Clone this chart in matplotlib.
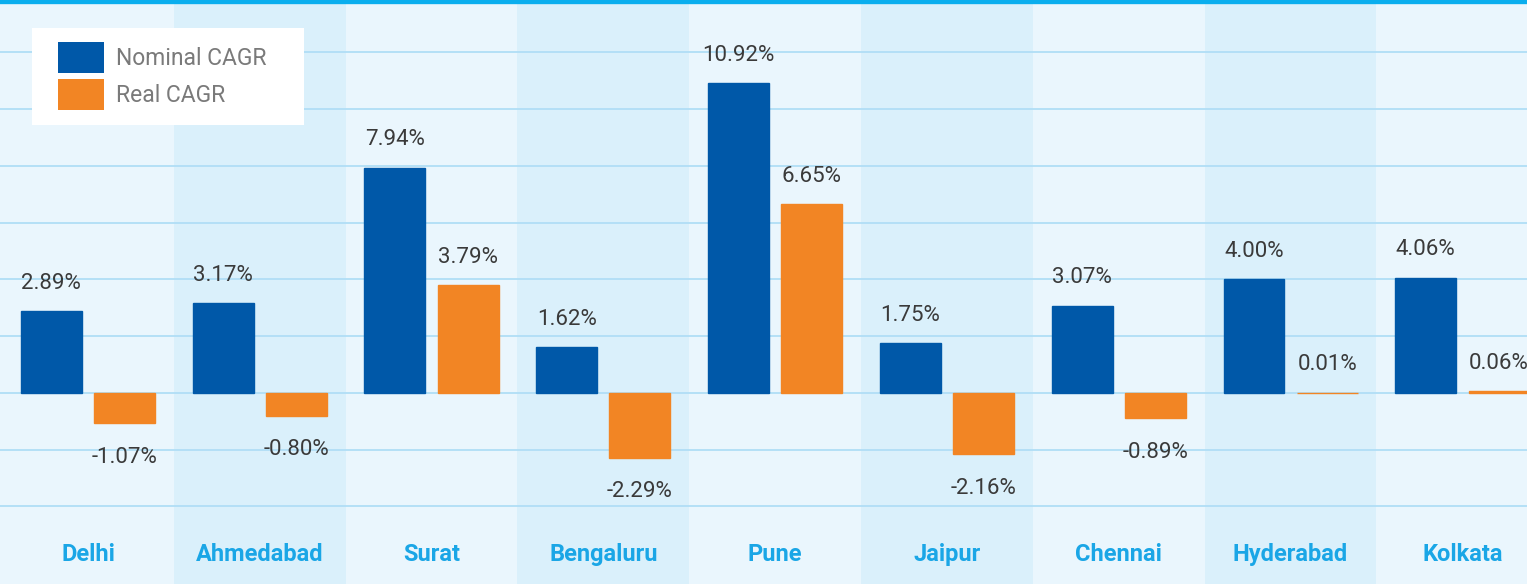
import numpy as np
import matplotlib
matplotlib.use("Agg")
import matplotlib.pyplot as plt
from matplotlib.patches import Patch, Rectangle

# data
cities = ["Delhi", "Ahmedabad", "Surat", "Bengaluru", "Pune",
          "Jaipur", "Chennai", "Hyderabad", "Kolkata"]
nominal = [2.89, 3.17, 7.94, 1.62, 10.92, 1.75, 3.07, 4.00, 4.06]
real = [-1.07, -0.80, 3.79, -2.29, 6.65, -2.16, -0.89, 0.01, 0.06]

BLUE = "#0058a8"
ORANGE = "#f28524"
LIGHT_BG = "#eaf6fd"
DARK_BG = "#daf0fb"
GRID = "#b0def6"
CITY = "#1aa6e6"
TXT = "#3a3a3a"

plt.rcParams["font.family"] = ["Roboto", "DejaVu Sans"]

W, H = 1527, 584
fig = plt.figure(figsize=(W / 100, H / 100), dpi=100, facecolor=LIGHT_BG)
ax = fig.add_axes([0, 0, 1, 1])
ax.set_facecolor(LIGHT_BG)

x = np.arange(len(cities))
ax.set_xlim(-0.512, 8.376)
ax.set_ylim(-6.73, 13.84)

# alternating column bands
for i in x:
    if i % 2 == 1:
        ax.axvspan(i - 0.5, i + 0.5, color=DARK_BG, lw=0, zorder=0)

# gridlines
for g in np.arange(-4, 14, 2):
    ax.axhline(g, color=GRID, lw=1.3, zorder=1)

w = 0.355
off = 0.213
b1 = ax.bar(x - off, nominal, w, color=BLUE, edgecolor=BLUE, lw=1.0, zorder=2)
b2 = ax.bar(x + off, real, w, color=ORANGE, edgecolor=ORANGE, lw=1.0, zorder=2)

for bars, vals in ((b1, nominal), (b2, real)):
    for rect, v in zip(bars, vals):
        cx = rect.get_x() + rect.get_width() / 2
        dy = 20 if v >= 0 else -24.5
        ax.annotate(f"{v:.2f}%", (cx, v), xytext=(0, dy),
                    textcoords="offset points", ha="center", va="center",
                    fontsize=16, color=TXT, zorder=3)

for i, c in zip(x, cities):
    ax.text(i, 0.0497, c, transform=ax.get_xaxis_transform(),
            ha="center", va="center", fontsize=17, fontweight="bold",
            color=CITY)

ax.set_xticks([])
ax.set_yticks([])
for s in ("left", "right", "bottom"):
    ax.spines[s].set_visible(False)
ax.spines["top"].set_color("#0aaeee")
ax.spines["top"].set_linewidth(6)

# legend box (white panel) + legend
ax.add_patch(Rectangle((32 / W, 1 - 125 / H), 272 / W, 97 / H,
                       transform=fig.transFigure, facecolor="white",
                       edgecolor="none", zorder=4, clip_on=False))
handles = [Patch(facecolor=BLUE, edgecolor="none", label="Nominal CAGR"),
           Patch(facecolor=ORANGE, edgecolor="none", label="Real CAGR")]
leg = ax.legend(handles=handles, loc="upper left",
                bbox_to_anchor=(58 / W, 1 - 42 / H),
                bbox_transform=fig.transFigure, borderaxespad=0,
                fontsize=16.5, frameon=False, borderpad=0,
                handlelength=2.0, handleheight=1.71, handletextpad=0.52,
                labelspacing=0.26, labelcolor="#7a7a7a")
leg.set_zorder(5)

fig.savefig("out.png", dpi=100, facecolor=fig.get_facecolor())
